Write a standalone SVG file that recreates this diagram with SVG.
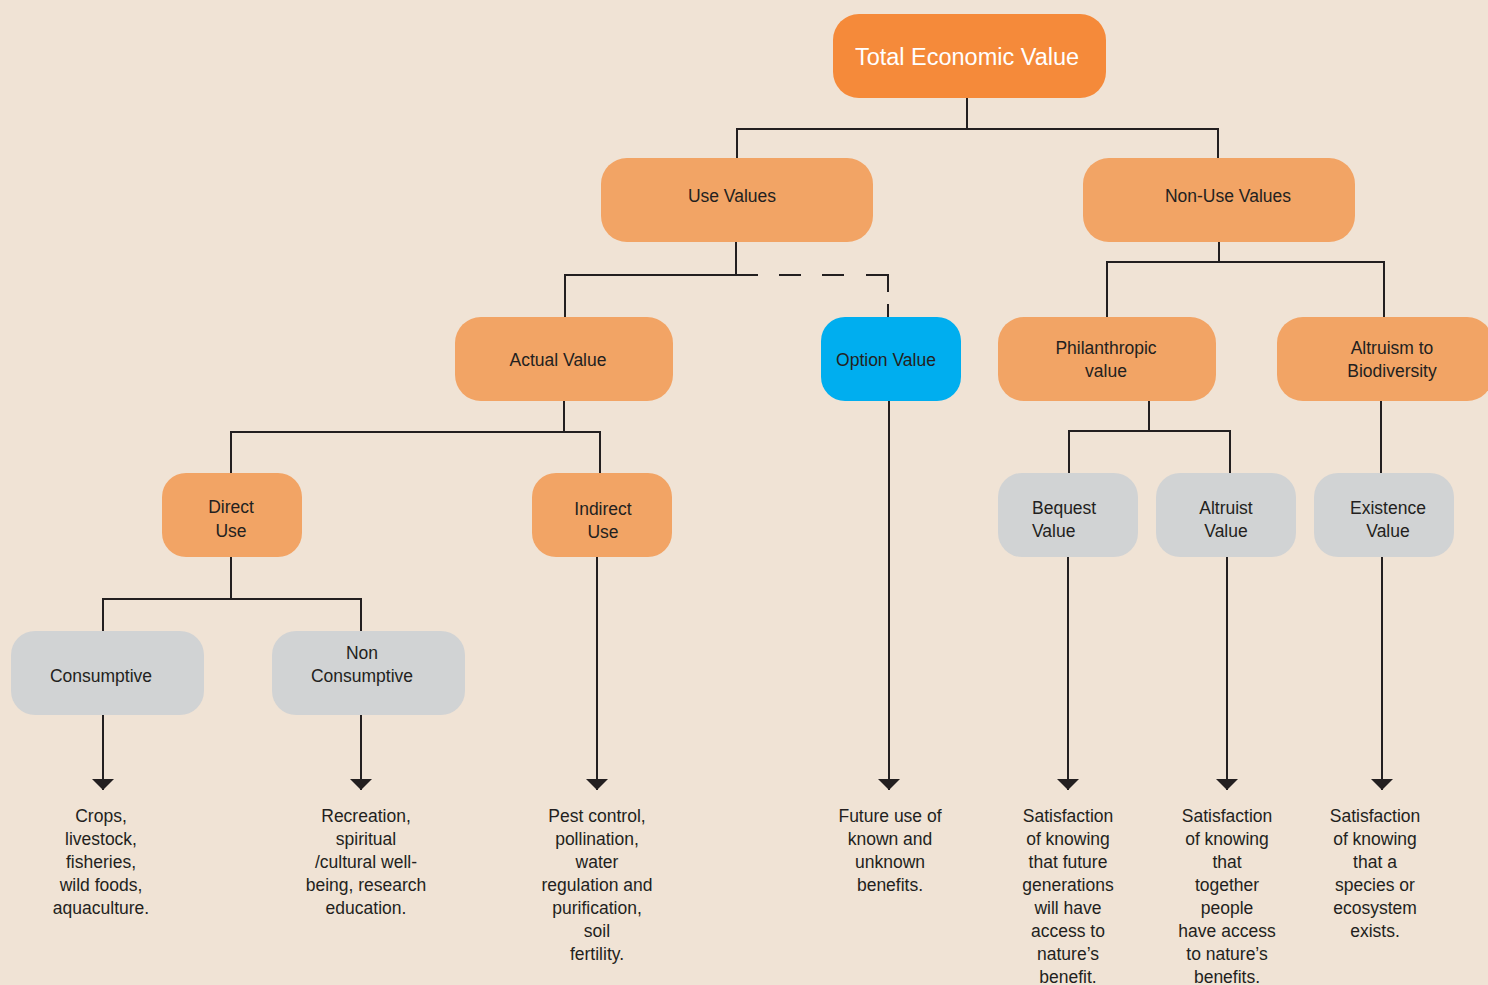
<svg xmlns="http://www.w3.org/2000/svg" width="1488" height="985" viewBox="0 0 1488 985">
<style>
.bg{fill:#F0E3D5}
.dark{fill:#F58A3A}
.org{fill:#F2A465}
.blue{fill:#00AEEF}
.gray{fill:#D1D3D4}
.t{font-family:"Liberation Sans",Arial,sans-serif;font-size:17.5px;fill:#231F20;text-anchor:middle}
.tw{font-family:"Liberation Sans",Arial,sans-serif;font-size:23.5px;fill:#FFFFFF;text-anchor:middle}
.d{font-family:"Liberation Sans",Arial,sans-serif;font-size:17.5px;fill:#231F20;text-anchor:middle}
.ln{fill:none;stroke:#231F20;stroke-width:2}
</style>
<defs>
<marker id="ah" markerUnits="userSpaceOnUse" markerWidth="12" markerHeight="22" refX="11" refY="11" orient="auto" viewBox="0 0 12 22">
<path d="M0,0 L11,11 L0,22 Z" fill="#231F20"/>
</marker>
</defs>
<rect class="bg" x="0" y="0" width="1488" height="985"/>

<g id="connectors">
<path class="ln" d="M967,98 V129 M737,158 V129 H1218 V158"/>
<path class="ln" d="M736,242 V275 H565 V318"/>
<path class="ln" d="M736,275 H758 M779,275 H801 M822,275 H844 M866,275 H888 V292 M888,304 V318"/>
<path class="ln" d="M1219,242 V262 M1107,317 V262 H1384 V317"/>
<path class="ln" d="M564,401 V432 M231,473 V432 H600 V473"/>
<path class="ln" d="M231,557 V599 M103,631 V599 H361 V631"/>
<path class="ln" d="M1149,401 V431 M1069,473 V431 H1230 V473"/>
<path class="ln" d="M1381,401 V473"/>
<path class="ln" d="M103,715 V790" marker-end="url(#ah)"/>
<path class="ln" d="M361,715 V790" marker-end="url(#ah)"/>
<path class="ln" d="M597,557 V790" marker-end="url(#ah)"/>
<path class="ln" d="M889,401 V790" marker-end="url(#ah)"/>
<path class="ln" d="M1068,557 V790" marker-end="url(#ah)"/>
<path class="ln" d="M1227,557 V790" marker-end="url(#ah)"/>
<path class="ln" d="M1382,557 V790" marker-end="url(#ah)"/>
</g>

<g id="tev">
<rect class="dark" x="833" y="14" width="273" height="84" rx="26"/>
<text class="tw" x="967" y="65">Total Economic Value</text>
</g>
<g id="use-values">
<rect class="org" x="601" y="158" width="272" height="84" rx="26"/>
<text class="t" x="732" y="202">Use Values</text>
</g>
<g id="non-use-values">
<rect class="org" x="1083" y="158" width="272" height="84" rx="26"/>
<text class="t" x="1228" y="202">Non-Use Values</text>
</g>
<g id="actual-value">
<rect class="org" x="455" y="317" width="218" height="84" rx="26"/>
<text class="t" x="558" y="366">Actual Value</text>
</g>
<g id="option-value">
<rect class="blue" x="821" y="317" width="140" height="84" rx="24"/>
<text class="t" x="886" y="366">Option Value</text>
</g>
<g id="philanthropic">
<rect class="org" x="998" y="317" width="218" height="84" rx="26"/>
<text class="t" x="1106" y="354">Philanthropic</text>
<text class="t" x="1106" y="377">value</text>
</g>
<g id="altruism-biodiversity">
<rect class="org" x="1277" y="317" width="216" height="84" rx="26"/>
<text class="t" x="1392" y="354">Altruism to</text>
<text class="t" x="1392" y="377">Biodiversity</text>
</g>
<g id="direct-use">
<rect class="org" x="162" y="473" width="140" height="84" rx="24"/>
<text class="t" x="231" y="513">Direct</text>
<text class="t" x="231" y="537">Use</text>
</g>
<g id="indirect-use">
<rect class="org" x="532" y="473" width="140" height="84" rx="24"/>
<text class="t" x="603" y="515">Indirect</text>
<text class="t" x="603" y="538">Use</text>
</g>
<g id="bequest">
<rect class="gray" x="998" y="473" width="140" height="84" rx="24"/>
<text class="t" x="1032" y="514" style="text-anchor:start">Bequest</text>
<text class="t" x="1032" y="537" style="text-anchor:start">Value</text>
</g>
<g id="altruist">
<rect class="gray" x="1156" y="473" width="140" height="84" rx="24"/>
<text class="t" x="1226" y="514">Altruist</text>
<text class="t" x="1226" y="537">Value</text>
</g>
<g id="existence">
<rect class="gray" x="1314" y="473" width="140" height="84" rx="24"/>
<text class="t" x="1388" y="514">Existence</text>
<text class="t" x="1388" y="537">Value</text>
</g>
<g id="consumptive">
<rect class="gray" x="11" y="631" width="193" height="84" rx="24"/>
<text class="t" x="101" y="682">Consumptive</text>
</g>
<g id="non-consumptive">
<rect class="gray" x="272" y="631" width="193" height="84" rx="24"/>
<text class="t" x="362" y="659">Non</text>
<text class="t" x="362" y="682">Consumptive</text>
</g>

<g id="desc-consumptive">
<text class="d" x="101" y="822">Crops,</text>
<text class="d" x="101" y="845">livestock,</text>
<text class="d" x="101" y="868">fisheries,</text>
<text class="d" x="101" y="891">wild foods,</text>
<text class="d" x="101" y="914">aquaculture.</text>
</g>
<g id="desc-non-consumptive">
<text class="d" x="366" y="822">Recreation,</text>
<text class="d" x="366" y="845">spiritual</text>
<text class="d" x="366" y="868">/cultural well-</text>
<text class="d" x="366" y="891">being, research</text>
<text class="d" x="366" y="914">education.</text>
</g>
<g id="desc-indirect">
<text class="d" x="597" y="822">Pest control,</text>
<text class="d" x="597" y="845">pollination,</text>
<text class="d" x="597" y="868">water</text>
<text class="d" x="597" y="891">regulation and</text>
<text class="d" x="597" y="914">purification,</text>
<text class="d" x="597" y="937">soil</text>
<text class="d" x="597" y="960">fertility.</text>
</g>
<g id="desc-option">
<text class="d" x="890" y="822">Future use of</text>
<text class="d" x="890" y="845">known and</text>
<text class="d" x="890" y="868">unknown</text>
<text class="d" x="890" y="891">benefits.</text>
</g>
<g id="desc-bequest">
<text class="d" x="1068" y="822">Satisfaction</text>
<text class="d" x="1068" y="845">of knowing</text>
<text class="d" x="1068" y="868">that future</text>
<text class="d" x="1068" y="891">generations</text>
<text class="d" x="1068" y="914">will have</text>
<text class="d" x="1068" y="937">access to</text>
<text class="d" x="1068" y="960">nature’s</text>
<text class="d" x="1068" y="983">benefit.</text>
</g>
<g id="desc-altruist">
<text class="d" x="1227" y="822">Satisfaction</text>
<text class="d" x="1227" y="845">of knowing</text>
<text class="d" x="1227" y="868">that</text>
<text class="d" x="1227" y="891">together</text>
<text class="d" x="1227" y="914">people</text>
<text class="d" x="1227" y="937">have access</text>
<text class="d" x="1227" y="960">to nature’s</text>
<text class="d" x="1227" y="983">benefits.</text>
</g>
<g id="desc-existence">
<text class="d" x="1375" y="822">Satisfaction</text>
<text class="d" x="1375" y="845">of knowing</text>
<text class="d" x="1375" y="868">that a</text>
<text class="d" x="1375" y="891">species or</text>
<text class="d" x="1375" y="914">ecosystem</text>
<text class="d" x="1375" y="937">exists.</text>
</g>
</svg>
